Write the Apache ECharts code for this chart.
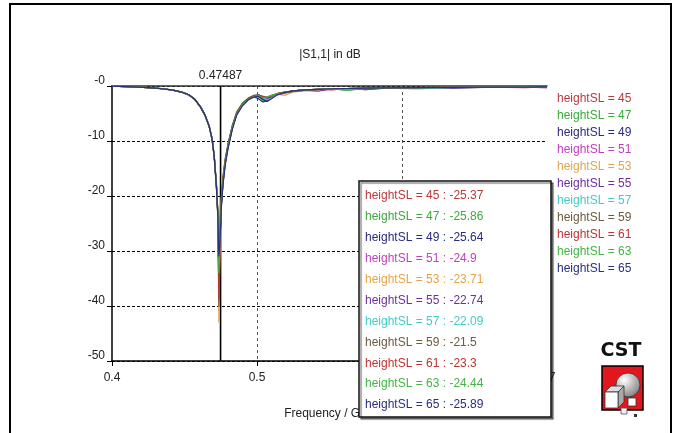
<!DOCTYPE html>
<html>
<head>
<meta charset="utf-8">
<script src="https://cdn.jsdelivr.net/npm/echarts@6/dist/echarts.min.js"></script>
<style>
  html, body { margin: 0; padding: 0; background: #fff; }
  #chart { width: 675px; height: 433px; }
</style>
</head>
<body>
<div id="chart"></div>
<script>
// frequency samples (GHz)
var freq = [0.400, 0.415, 0.425, 0.435, 0.442, 0.448, 0.453, 0.457, 0.461, 0.464, 0.467, 0.469, 0.4705, 0.472, 0.473,
  0.4737, 0.4743, 0.47487, 0.4755, 0.4765, 0.478, 0.480, 0.483, 0.486, 0.490, 0.494, 0.498, 0.501, 0.504, 0.507,
  0.510, 0.514, 0.519, 0.525, 0.533, 0.542, 0.552, 0.562, 0.575, 0.590, 0.610, 0.635, 0.660, 0.685, 0.700];

var names = ['heightSL = 45', 'heightSL = 47', 'heightSL = 49', 'heightSL = 51', 'heightSL = 53', 'heightSL = 55',
  'heightSL = 57', 'heightSL = 59', 'heightSL = 61', 'heightSL = 63', 'heightSL = 65'];
var colors = ['#b83a3a', '#3caa3c', '#2a2a80', '#c040c0', '#e4a448', '#6e2e9e', '#44caca', '#6e5a3e', '#c03232', '#44b444', '#283080'];

// |S1,1| in dB, one array per heightSL
var s45 = [-0.05,-0.15,-0.3,-0.5,-0.76,-1.12,-1.62,-2.42,-3.82,-5.25,-7.35,-9.7,-12.9,-18.2,-23.5,-38,-31,-25.37,-21.3,-17.8,-14.2,-11.1,-7.6,-5.1,-3.4,-2.4,-1.9,-1.8,-2.4,-2.2,-1.8,-1.4,-1.1,-0.9,-0.7,-0.6,-0.5,-0.45,-0.65,-0.35,-0.3,-0.25,-0.25,-0.2,-0.3];
var s47 = [-0.05,-0.16,-0.31,-0.52,-0.78,-1.15,-1.66,-2.48,-3.9,-5.35,-7.45,-9.8,-13.1,-18.5,-24,-33,-29,-25.86,-21.6,-18.0,-14.4,-11.3,-7.8,-5.2,-3.5,-2.5,-2.0,-1.9,-2.6,-2.5,-1.9,-1.5,-1.2,-1.0,-0.75,-0.6,-0.5,-0.8,-0.45,-0.35,-0.3,-0.3,-0.25,-0.2,-0.2];
var s49 = [-0.04,-0.14,-0.29,-0.49,-0.74,-1.08,-1.58,-2.36,-3.75,-5.15,-7.25,-9.5,-12.7,-17.9,-23.2,-30,-28.5,-25.64,-21.4,-17.7,-14.1,-11.0,-7.6,-5.1,-3.4,-2.4,-2.0,-2.3,-2.9,-2.7,-2.0,-1.5,-1.2,-0.9,-0.7,-0.6,-0.5,-0.45,-0.4,-0.3,-0.3,-0.25,-0.2,-0.2,-0.15];
var s51 = [-0.05,-0.15,-0.3,-0.51,-0.76,-1.11,-1.61,-2.41,-3.8,-5.2,-7.3,-9.6,-12.8,-18.1,-23.3,-36,-30,-24.9,-20.9,-17.3,-13.9,-10.9,-7.4,-4.9,-3.3,-2.3,-1.8,-1.7,-2.1,-2.3,-1.9,-1.4,-1.1,-1.0,-0.8,-0.65,-0.5,-0.45,-0.4,-0.35,-0.3,-0.25,-0.2,-0.2,-0.3];
var s53 = [-0.05,-0.15,-0.3,-0.5,-0.75,-1.1,-1.6,-2.4,-3.8,-5.2,-7.3,-9.6,-12.8,-18.0,-23.4,-43,-32,-23.71,-20.6,-17.1,-13.8,-10.8,-7.4,-4.9,-3.2,-2.3,-1.8,-1.7,-1.9,-2.1,-1.8,-1.5,-1.7,-1.1,-0.8,-0.6,-0.5,-0.45,-0.4,-0.35,-0.3,-0.25,-0.2,-0.2,-0.15];
var s55 = [-0.05,-0.15,-0.3,-0.5,-0.75,-1.1,-1.6,-2.4,-3.78,-5.18,-7.25,-9.55,-12.7,-17.8,-22.8,-35,-28,-22.74,-20.3,-16.9,-13.6,-10.7,-7.3,-4.9,-3.2,-2.2,-1.8,-1.6,-1.9,-2.2,-2.0,-1.6,-1.3,-1.0,-0.8,-0.95,-0.5,-0.45,-0.4,-0.35,-0.3,-0.45,-0.2,-0.2,-0.15];
var s57 = [-0.05,-0.15,-0.3,-0.5,-0.75,-1.1,-1.6,-2.4,-3.77,-5.15,-7.2,-9.5,-12.6,-17.6,-22.5,-29,-25,-22.09,-20.1,-16.7,-13.5,-10.6,-7.2,-4.8,-3.1,-2.2,-1.7,-1.6,-2.1,-2.5,-2.2,-1.5,-1.2,-0.9,-0.7,-0.6,-0.5,-0.45,-0.4,-0.4,-0.55,-0.3,-0.2,-0.2,-0.15];
var s59 = [-0.05,-0.15,-0.3,-0.5,-0.75,-1.1,-1.6,-2.4,-3.8,-5.2,-7.3,-9.6,-12.8,-17.9,-23.0,-40,-29,-21.5,-19.8,-16.5,-13.3,-10.5,-7.1,-4.7,-3.1,-2.2,-1.7,-1.6,-1.9,-2.0,-1.7,-1.4,-1.2,-0.9,-0.7,-0.6,-0.5,-0.45,-0.65,-0.35,-0.3,-0.25,-0.2,-0.2,-0.15];
var s61 = [-0.05,-0.15,-0.3,-0.5,-0.75,-1.1,-1.6,-2.4,-3.8,-5.2,-7.3,-9.6,-12.8,-18.1,-23.4,-39,-30,-23.3,-20.7,-17.2,-13.9,-10.9,-7.5,-5.0,-3.3,-2.3,-1.8,-1.7,-2.0,-2.1,-1.8,-1.4,-1.1,-0.9,-0.7,-0.6,-0.7,-0.45,-0.4,-0.35,-0.3,-0.25,-0.2,-0.3,-0.15];
var s63 = [-0.05,-0.15,-0.3,-0.5,-0.75,-1.1,-1.6,-2.4,-3.8,-5.2,-7.3,-9.6,-12.8,-18.2,-23.6,-34,-29,-24.44,-21.1,-17.5,-14.1,-11.0,-7.6,-5.1,-3.4,-2.4,-1.9,-1.8,-2.2,-2.0,-1.7,-1.4,-1.2,-0.9,-0.7,-0.6,-0.55,-0.75,-0.45,-0.35,-0.3,-0.25,-0.2,-0.2,-0.15];
var s65 = [-0.05,-0.15,-0.3,-0.5,-0.75,-1.1,-1.6,-2.4,-3.8,-5.2,-7.3,-9.6,-12.8,-18.3,-23.8,-31,-29,-25.89,-21.7,-18.1,-14.5,-11.4,-7.9,-5.3,-3.6,-2.5,-2.0,-1.9,-2.4,-2.8,-2.3,-1.6,-1.2,-0.9,-0.7,-0.6,-0.5,-0.45,-0.4,-0.35,-0.3,-0.25,-0.2,-0.2,-0.15];

var curves = [s45, s47, s49, s51, s53, s55, s57, s59, s61, s63, s65];
var markerFreq = 0.47487;
var markerIdx = freq.indexOf(markerFreq);

var FONT = "'Liberation Sans', Arial, sans-serif";

var myChart = echarts.init(document.getElementById('chart'));

// vertical marker line, drawn under the curves
var series = [{
  name: 'marker',
  type: 'line',
  silent: true,
  showSymbol: true,
  symbol: 'circle',
  symbolSize: 0,
  data: [
    [markerFreq, -50],
    { value: [markerFreq, 0], label: { show: true, position: 'top', distance: 4, formatter: String(markerFreq),
      color: '#222', fontSize: 12, fontFamily: FONT } }
  ],
  lineStyle: { color: '#000', width: 1.6 },
  itemStyle: { color: '#000' },
  z: 1
}];

curves.forEach(function (arr, i) {
  series.push({
    name: names[i],
    type: 'line',
    showSymbol: false,
    symbol: 'none',
    silent: true,
    data: freq.map(function (f, j) { return [f, arr[j]]; }),
    lineStyle: { color: colors[i], width: 1.2 },
    itemStyle: { color: colors[i] },
    z: 2
  });
});

// popup box with marker values
var popup = [
  { type: 'rect', z: 100, shape: { x: 359, y: 181, width: 192, height: 236 },
    style: { fill: '#fff', stroke: '#111', lineWidth: 1.5, shadowColor: 'rgba(0,0,0,0.45)', shadowOffsetX: 2, shadowOffsetY: 2, shadowBlur: 1 } }
];
curves.forEach(function (arr, i) {
  popup.push({
    type: 'text', z: 101,
    x: 365, y: 196 + i * 20.9,
    style: { text: names[i] + ' : ' + arr[markerIdx], fill: colors[i], font: '12px ' + FONT, verticalAlign: 'middle' }
  });
});

var logo = [
  { type: 'text', x: 621, y: 351, style: { text: 'CST', fill: '#111', font: 'bold 19px DejaVu Sans', textAlign: 'center', verticalAlign: 'middle' } },
  { type: 'rect', shape: { x: 602, y: 366, width: 41, height: 44 }, style: { fill: '#e3161d', stroke: '#000', lineWidth: 1.5 } },
  { type: 'circle', shape: { cx: 628, cy: 385, r: 12 },
    style: { fill: new echarts.graphic.RadialGradient(0.35, 0.3, 0.8, [{ offset: 0, color: '#fff' }, { offset: 1, color: '#777' }]), stroke: '#333', lineWidth: 0.8 } },
  { type: 'polygon', shape: { points: [[605, 392], [611, 386], [624, 386], [618, 392]] }, style: { fill: '#ddd', stroke: '#333', lineWidth: 0.8 } },
  { type: 'polygon', shape: { points: [[618, 392], [624, 386], [624, 402], [618, 408]] }, style: { fill: '#aaa', stroke: '#333', lineWidth: 0.8 } },
  { type: 'rect', shape: { x: 605, y: 392, width: 13, height: 16 }, style: { fill: '#fff', stroke: '#333', lineWidth: 0.8 } },
  { type: 'rect', shape: { x: 628, y: 398, width: 8, height: 8 }, style: { fill: '#fff', stroke: '#333', lineWidth: 0.8 } },
  { type: 'rect', shape: { x: 621, y: 408, width: 6, height: 6 }, style: { fill: '#eee', stroke: '#555', lineWidth: 0.8 } },
  { type: 'rect', shape: { x: 634, y: 414, width: 3, height: 3 }, style: { fill: '#333' } }
];
logo.forEach(function (el) { el.z = 100; });

myChart.setOption({
  animation: false,
  grid: { left: 112, top: 86, width: 435, height: 275 },
  legend: {
    orient: 'vertical',
    left: 547, top: 88,
    itemGap: 5,
    itemWidth: 0, itemHeight: 0,
    icon: 'rect',
    selectedMode: false,
    textStyle: { fontSize: 12, fontFamily: FONT },
    data: names.map(function (n, i) { return { name: n, textStyle: { color: colors[i] } }; })
  },
  xAxis: [
    {
      type: 'value', min: 0.4, max: 0.7, interval: 0.1, position: 'bottom',
      name: 'Frequency / GHz', nameLocation: 'middle', nameGap: 47,
      nameTextStyle: { color: '#222', fontSize: 12, fontFamily: FONT },
      axisLine: { show: true, onZero: false, lineStyle: { color: '#000', width: 1.5 } },
      axisTick: { show: true, length: 5, lineStyle: { color: '#000' } },
      axisLabel: { color: '#222', fontSize: 12, fontFamily: FONT, margin: 11, formatter: function (v) { return v.toFixed(1); } },
      splitLine: { show: true, showMinLine: false, showMaxLine: false, lineStyle: { color: '#555', type: [3, 3], width: 1 } }
    },
    {
      type: 'value', min: 0.4, max: 0.7, position: 'top',
      axisLine: { show: true, onZero: false, lineStyle: { color: '#333', width: 1.5 } },
      axisTick: { show: false }, axisLabel: { show: false }, splitLine: { show: false }
    }
  ],
  yAxis: {
    type: 'value', min: -50, max: 0, interval: 10,
    axisLine: { show: true, onZero: false, lineStyle: { color: '#000', width: 1.5 } },
    axisTick: { show: true, length: 5, lineStyle: { color: '#000' } },
    axisLabel: {
      color: '#222', fontSize: 12, fontFamily: FONT, margin: 7, verticalAlign: 'bottom', lineHeight: 10,
      formatter: function (v) { return v === 0 ? '-0' : String(v); }
    },
    splitLine: { show: true, lineStyle: { color: '#000', type: [3, 2], width: 1 } }
  },
  series: series,
  graphic: [
    { type: 'rect', z: 100, shape: { x: 10, y: 4, width: 661, height: 460 }, style: { fill: 'none', stroke: '#000', lineWidth: 2 } },
    { type: 'text', x: 330, y: 55, style: { text: '|S1,1| in dB', fill: '#222', font: '12px ' + FONT, textAlign: 'center', verticalAlign: 'middle' } }
  ].concat(popup, logo)
});
window.onresize = myChart.resize;
</script>
</body>
</html>
